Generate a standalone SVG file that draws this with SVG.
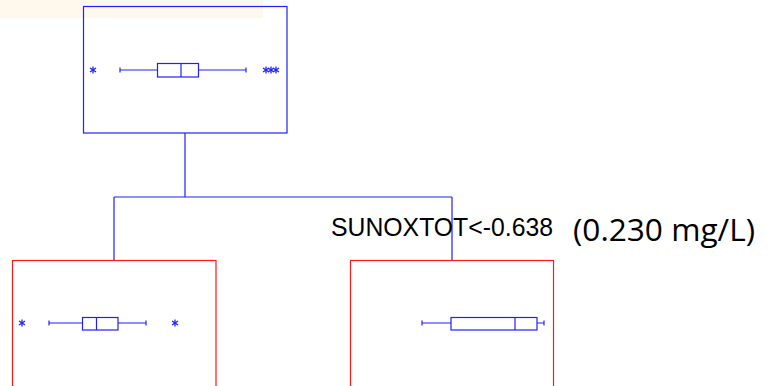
<svg xmlns="http://www.w3.org/2000/svg" xmlns:xlink="http://www.w3.org/1999/xlink" width="768" height="386" viewBox="0 0 768 386">
<style>
.blue{fill:none;stroke:#2020ff;stroke-width:1.2}
.red{fill:none;stroke:#ff1a1a;stroke-width:1.2}
.bp{fill:#fff;stroke:#2020ff;stroke-width:1.2}
.wh{stroke:#2020ff;stroke-width:1.2}
.star{stroke:#2020ff;stroke-width:1.3;fill:none}
.lbl{font-family:"Liberation Sans",Arial,sans-serif;fill:#000}
.unit{font-family:"Open Sans","Noto Sans",sans-serif;fill:#000}
</style>
<defs>
<g id="ast" class="star">
<line x1="0" y1="-3.5" x2="0" y2="3.5"/>
<line x1="-3" y1="-2" x2="3" y2="2"/>
<line x1="-3" y1="2" x2="3" y2="-2"/>
</g>
</defs>
<rect x="0" y="0" width="263" height="18" fill="#fff8ec"/>
<g id="connectors">
<path class="blue" d="M185,133 V197 M114,197 H452 M114,197 V260 M452,197 V260"/>
</g>
<g id="root">
<rect class="blue" x="83.5" y="6.5" width="203.5" height="126.5"/>
<line class="wh" x1="120" y1="70" x2="246" y2="70"/>
<line class="wh" x1="120" y1="67.5" x2="120" y2="72.5"/>
<line class="wh" x1="246" y1="67.5" x2="246" y2="72.5"/>
<rect class="bp" x="157.5" y="63.5" width="41" height="13.5"/>
<line class="wh" x1="181" y1="63.5" x2="181" y2="77"/>
<use xlink:href="#ast" x="93" y="70"/>
<use xlink:href="#ast" x="266" y="70"/>
<use xlink:href="#ast" x="271" y="70"/>
<use xlink:href="#ast" x="276" y="70"/>
</g>
<g id="left">
<rect class="red" x="12.5" y="260.5" width="203.5" height="140"/>
<line class="wh" x1="49" y1="323" x2="146" y2="323"/>
<line class="wh" x1="49" y1="320.5" x2="49" y2="325.5"/>
<line class="wh" x1="146" y1="320.5" x2="146" y2="325.5"/>
<rect class="bp" x="82.5" y="317.5" width="35.5" height="12.5"/>
<line class="wh" x1="96.5" y1="317.5" x2="96.5" y2="330"/>
<use xlink:href="#ast" x="22" y="323"/>
<use xlink:href="#ast" x="175" y="323"/>
</g>
<g id="right">
<rect class="red" x="350.5" y="260.5" width="203" height="140"/>
<line class="wh" x1="422" y1="323" x2="544" y2="323"/>
<line class="wh" x1="422" y1="320.5" x2="422" y2="325.5"/>
<line class="wh" x1="544" y1="320.5" x2="544" y2="325.5"/>
<rect class="bp" x="451" y="317.5" width="86" height="12.5"/>
<line class="wh" x1="515" y1="317.5" x2="515" y2="330"/>
</g>
<text class="lbl" x="331" y="236" font-size="26" textLength="222" lengthAdjust="spacingAndGlyphs">SUNOXTOT&lt;-0.638</text>
<text class="unit" x="573" y="241" font-size="31" textLength="182" lengthAdjust="spacingAndGlyphs">(0.230 mg/L)</text>
</svg>
